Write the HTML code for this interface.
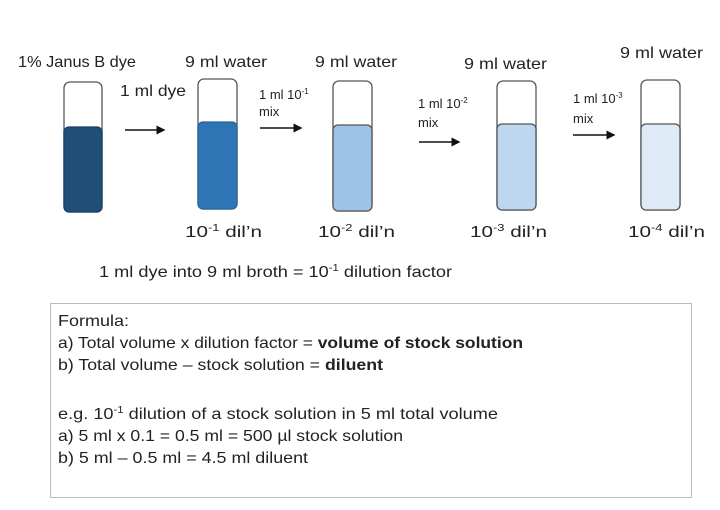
<!DOCTYPE html>
<html><head><meta charset="utf-8"><style>
html,body{margin:0;padding:0;background:#fff;}
svg{display:block;font-family:"Liberation Sans",sans-serif;fill:#222;}
</style></head><body>
<svg width="720" height="510" viewBox="0 0 720 510" xmlns="http://www.w3.org/2000/svg">
<defs><marker id="ah" markerWidth="6" markerHeight="6" refX="5" refY="3" orient="auto"><path d="M0,0 L6,3 L0,6 z" fill="#111"/></marker></defs>
<g font-size="16">
<text x="18" y="67" textLength="118" lengthAdjust="spacingAndGlyphs">1% Janus B dye</text>
<text x="185" y="67" textLength="82" lengthAdjust="spacingAndGlyphs">9 ml water</text>
<text x="315" y="67" textLength="82" lengthAdjust="spacingAndGlyphs">9 ml water</text>
<text x="464" y="69" textLength="83" lengthAdjust="spacingAndGlyphs">9 ml water</text>
<text x="620" y="58" textLength="83" lengthAdjust="spacingAndGlyphs">9 ml water</text>
<text x="120" y="96" textLength="66" lengthAdjust="spacingAndGlyphs">1 ml dye</text>
</g>
<g font-size="13">
<text x="259" y="99">1 ml 10<tspan font-size="8" dy="-5">-1</tspan></text>
<text x="259" y="116">mix</text>
<text x="418" y="108">1 ml 10<tspan font-size="8" dy="-5">-2</tspan></text>
<text x="418" y="127">mix</text>
<text x="573" y="103">1 ml 10<tspan font-size="8" dy="-5">-3</tspan></text>
<text x="573" y="123">mix</text>
</g>
<g stroke="#111" stroke-width="1.5" marker-end="url(#ah)">
<line x1="125" y1="130" x2="164" y2="130"/>
<line x1="260" y1="128" x2="301" y2="128"/>
<line x1="419" y1="142" x2="459" y2="142"/>
<line x1="573" y1="135" x2="614" y2="135"/>
</g>
<g stroke="#555" stroke-width="1.3">
<rect x="64" y="82" width="38" height="130" rx="6" fill="#fff"/>
<rect x="64" y="127" width="38" height="85" rx="5" fill="#1f4e79" stroke="#1a3f63"/>
<rect x="198" y="79" width="39" height="130" rx="6" fill="#fff"/>
<rect x="198" y="122" width="39" height="87" rx="5" fill="#2e75b6" stroke="#28649c"/>
<rect x="333" y="81" width="39" height="130" rx="6" fill="#fff"/>
<rect x="333" y="125" width="39" height="86" rx="5" fill="#9dc3e6"/>
<rect x="497" y="81" width="39" height="129" rx="6" fill="#fff"/>
<rect x="497" y="124" width="39" height="86" rx="5" fill="#bdd7ee"/>
<rect x="641" y="80" width="39" height="130" rx="6" fill="#fff"/>
<rect x="641" y="124" width="39" height="86" rx="5" fill="#deebf7"/>
</g>
<g font-size="16">
<text x="185" y="237" textLength="77" lengthAdjust="spacingAndGlyphs">10<tspan font-size="10" dy="-6">-1</tspan><tspan dy="6"> dil’n</tspan></text>
<text x="318" y="237" textLength="77" lengthAdjust="spacingAndGlyphs">10<tspan font-size="10" dy="-6">-2</tspan><tspan dy="6"> dil’n</tspan></text>
<text x="470" y="237" textLength="77" lengthAdjust="spacingAndGlyphs">10<tspan font-size="10" dy="-6">-3</tspan><tspan dy="6"> dil’n</tspan></text>
<text x="628" y="237" textLength="77" lengthAdjust="spacingAndGlyphs">10<tspan font-size="10" dy="-6">-4</tspan><tspan dy="6"> dil’n</tspan></text>
<text x="99" y="277" textLength="353" lengthAdjust="spacingAndGlyphs">1 ml dye into 9 ml broth = 10<tspan font-size="10" dy="-6">-1</tspan><tspan dy="6"> dilution factor</tspan></text>
</g>
<rect x="50.5" y="303.5" width="641" height="194" fill="#fff" stroke="#bbb" stroke-width="1"/>
<g font-size="16">
<text x="58" y="326" textLength="71" lengthAdjust="spacingAndGlyphs">Formula:</text>
<text x="58" y="348" textLength="465" lengthAdjust="spacingAndGlyphs">a) Total volume x dilution factor = <tspan font-weight="bold">volume of stock solution</tspan></text>
<text x="58" y="370" textLength="325" lengthAdjust="spacingAndGlyphs">b) Total volume – stock solution = <tspan font-weight="bold">diluent</tspan></text>
<text x="58" y="419" textLength="440" lengthAdjust="spacingAndGlyphs">e.g. 10<tspan font-size="10" dy="-6">-1</tspan><tspan dy="6"> dilution of a stock solution in 5 ml total volume</tspan></text>
<text x="58" y="441" textLength="345" lengthAdjust="spacingAndGlyphs">a) 5 ml x 0.1 = 0.5 ml = 500 µl stock solution</text>
<text x="58" y="463" textLength="250" lengthAdjust="spacingAndGlyphs">b) 5 ml – 0.5 ml = 4.5 ml diluent</text>
</g>
</svg>
</body></html>
